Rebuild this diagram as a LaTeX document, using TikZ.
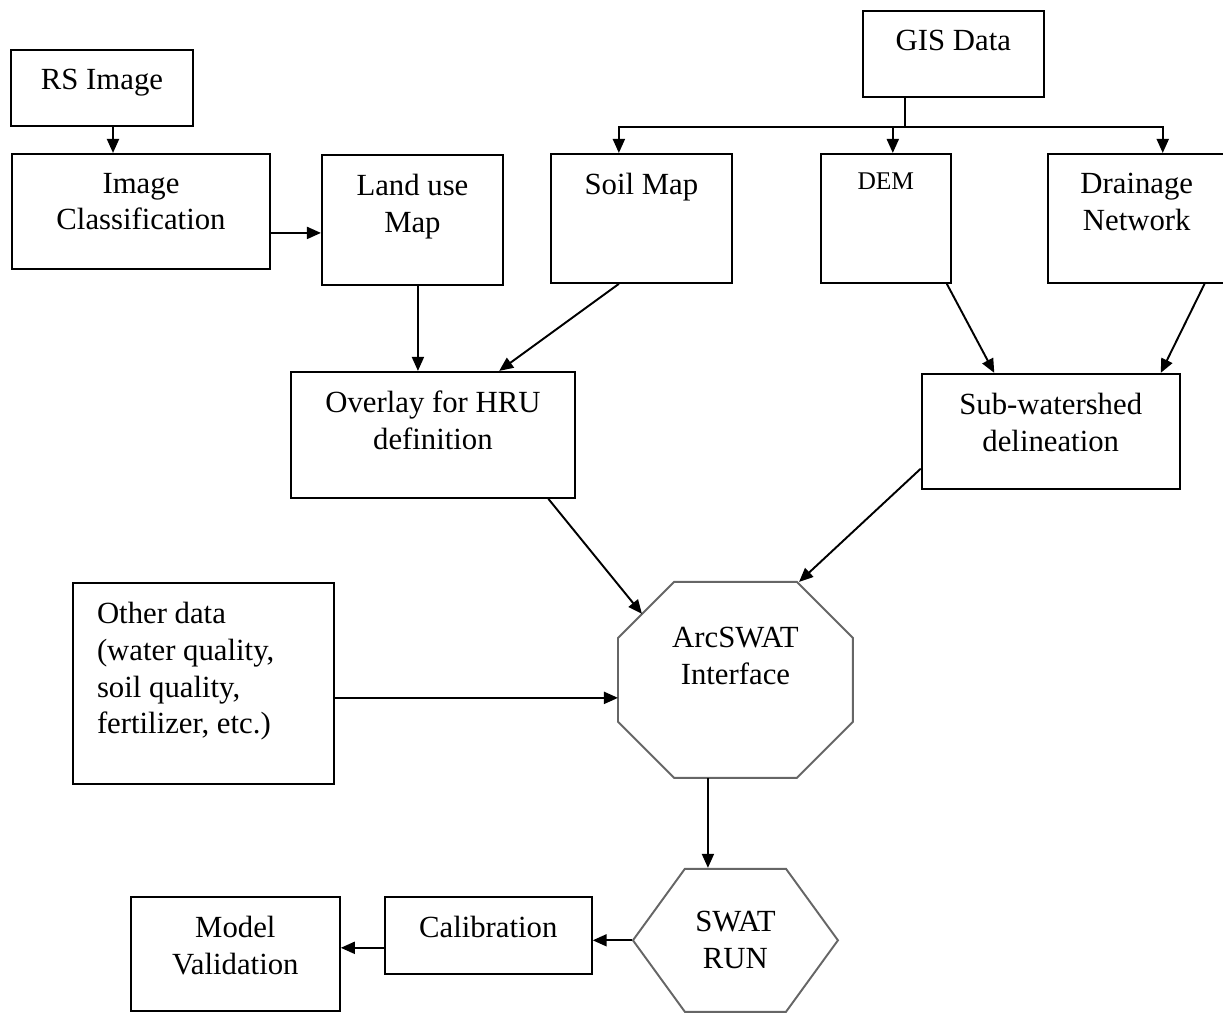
\documentclass[tikz,border=0pt]{standalone}
\usepackage{fontspec}
\setmainfont{Liberation Serif}
\usepackage{tikz}
\usetikzlibrary{positioning,arrows.meta,shapes.symbols}

\begin{document}
\begin{tikzpicture}[
		font=\fontsize{17.5}{21}\selectfont,
		line width=1.1pt,
		>={Triangle[length=0.28cm,width=0.24cm]},
		box/.style={draw, rectangle},
		txt/.style={anchor=north, align=center, inner sep=0pt, yshift=-0.38cm},
		octa/.style={draw=black!60},
		hexa/.style={draw=black!60, signal, signal to=west and east, signal pointer angle=108}
	]
		\useasboundingbox (0,0) rectangle (24.46,-20.24);
		
		\node[box, minimum width=3.64cm, minimum height=1.52cm, label={[txt]north:RS Image}] (rs) at (2.04,-1.76) {};
		\node[box, minimum width=5.16cm, minimum height=2.3cm, below=0.52cm of rs, xshift=0.78cm, label={[txt]north:{Image\\Classification}}] (ic) {};
		\node[box, minimum width=3.62cm, minimum height=2.6cm, right=1cm of ic, yshift=-0.17cm, label={[txt]north:{Land use\\Map}}] (lu) {};
		\node[box, minimum width=3.62cm, minimum height=2.58cm, right=0.92cm of lu, yshift=0.03cm, label={[txt]north:Soil Map}] (soil) {};
		\node[box, minimum width=2.6cm, minimum height=2.58cm, right=1.74cm of soil, label={[txt, font=\fontsize{14.5}{17}\selectfont]north:DEM}] (dem) {};
		\node[box, minimum width=3.56cm, minimum height=2.58cm, right=1.9cm of dem, label={[txt]north:{Drainage\\Network}}] (drain) {};
		\node[box, minimum width=3.62cm, minimum height=1.72cm, above=1.1cm of dem, xshift=1.35cm, label={[txt]north:GIS Data}] (gis) {};
		
		\node[box, minimum width=5.68cm, minimum height=2.52cm, below=1.7cm of lu, xshift=0.41cm, label={[txt]north:{Overlay for HRU\\definition}}] (ov) {};
		\node[box, minimum width=5.16cm, minimum height=2.3cm, below=1.78cm of drain, xshift=-1.72cm, label={[txt]north:{Sub-watershed\\delineation}}] (sw) {};
		
		\node[box, minimum width=5.22cm, minimum height=4.02cm, below=6.24cm of ic, xshift=1.25cm, label={[txt, anchor=north west, align=left, xshift=0.48cm]north west:{Other data\\(water quality,\\soil quality,\\fertilizer, etc.)}}] (other) {};
		\node[minimum width=4.66cm, minimum height=3.88cm, right=5.66cm of other, yshift=0.07cm, label={[txt, yshift=-0.51cm]north:{ArcSWAT\\Interface}}] (arc) {};
		\node[hexa, minimum width=4.1cm, minimum height=2.86cm, below=1.8cm of arc, align=center] (run) {SWAT\\RUN};
		\node[box, minimum width=4.14cm, minimum height=1.54cm, left=0.78cm of run, yshift=0.1cm, label={[txt]north:Calibration}] (cal) {};
		\node[box, minimum width=4.18cm, minimum height=2.28cm, left=0.86cm of cal, yshift=-0.37cm, label={[txt]north:{Model\\Validation}}] (mv) {};
		
		% octagon round the ArcSWAT node
		\draw[octa] ([xshift=1.12cm]arc.north west) -- ([xshift=-1.12cm]arc.north east) -- ([yshift=-1.12cm]arc.north east)
			-- ([yshift=1.12cm]arc.south east) -- ([xshift=-1.12cm]arc.south east) -- ([xshift=1.12cm]arc.south west)
			-- ([yshift=1.12cm]arc.south west) -- ([yshift=-1.12cm]arc.north west) -- cycle;
		
		\coordinate (bus) at ([xshift=-0.97cm, yshift=-0.58cm]gis.south);
		
		\draw[->] ([xshift=0.22cm]rs.south) -- ([xshift=0.22cm]rs.south |- ic.north);
		\draw[->] ([yshift=-0.43cm]ic.east) -- ([yshift=-0.43cm]ic.east -| lu.west);
		\draw (bus) -- (bus |- gis.south);
		\draw[->] (bus) -| ([xshift=-0.45cm]soil.north);
		\draw[->] (bus) -| ([xshift=0.14cm]dem.north);
		\draw[->] (bus) -| ([xshift=0.52cm]drain.north);
		\draw[->] ([xshift=0.11cm]lu.south) -- ([xshift=0.11cm]lu.south |- ov.north);
		\draw[->] (soil.251) -- (ov.44);
		\draw[->] (dem.-47) -- (sw.134);
		\draw[->] (drain.-44) -- (sw.28);
		\draw[->] (ov.-29) -- ([xshift=0.48cm, yshift=-0.64cm]arc.north west);
		\draw[->] (sw.196) -- (arc.57);
		\draw[->] ([yshift=-0.29cm]other.east) -- ([yshift=-0.29cm]other.east -| arc.west);
		\draw[->] ([xshift=-0.55cm]arc.south) -- ([xshift=-0.55cm]arc.south |- run.north);
		\draw[->] (run.west) -- (run.west -| cal.east);
		\draw[->] ([yshift=-0.25cm]cal.west) -- ([yshift=-0.25cm]cal.west -| mv.east);
	\end{tikzpicture}
\end{document}
